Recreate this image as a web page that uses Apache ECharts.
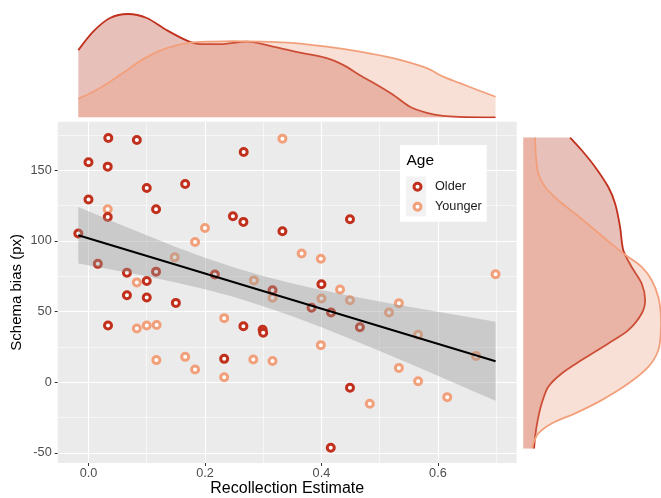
<!DOCTYPE html>
<html><head><meta charset="utf-8">
<script src="https://cdn.jsdelivr.net/npm/echarts@6/dist/echarts.min.js"></script>
<style>html,body{margin:0;padding:0;background:#fff}#c{width:661px;height:498px}</style>
</head><body><div id="c"></div>
<script>
// ---- data ----
const olderX = [0.034, 0.083, 0.0, 0.033, 0.2665, 0.1, 0.166, 0.0, 0.033, 0.116, 0.248, 0.266, 0.333, 0.449, -0.0175, 0.016, 0.066, 0.116, 0.1, 0.066, 0.1, 0.15, 0.217, 0.316, 0.0335, 0.266, 0.299, 0.300, 0.233, 0.4, 0.383, 0.4165, 0.466, 0.449, 0.416];
const olderY = [172.8, 171.4, 155.6, 152.5, 162.9, 137.4, 140.2, 129.2, 116.9, 122.3, 117.4, 113.4, 106.8, 115.3, 105.2, 83.7, 77.5, 78.2, 71.6, 61.5, 59.9, 56.1, 76.2, 65.0, 40.1, 39.6, 37.0, 35.0, 16.5, 69.3, 52.6, 49.3, 38.9, -4.0, -46.4];
const youngerX = [0.333, 0.033, 0.2, 0.183, 0.148, 0.366, 0.399, 0.699, 0.083, 0.284, 0.316, 0.083, 0.1, 0.117, 0.233, 0.1165, 0.166, 0.183, 0.233, 0.283, 0.316, 0.432, 0.449, 0.4, 0.533, 0.516, 0.566, 0.6655, 0.399, 0.533, 0.566, 0.483, 0.616];
const youngerY = [172.3, 122.3, 109.1, 99.2, 88.3, 91.0, 87.3, 76.4, 70.6, 72.0, 59.7, 38.0, 40.1, 40.5, 45.3, 15.6, 17.9, 9.0, 3.5, 16.0, 15.0, 65.6, 58.0, 59.2, 55.9, 49.3, 33.5, 18.6, 26.2, 10.1, 0.7, -15.3, -10.6];

// regression line and confidence band
const fitX = [-0.0175, 0.699];
const fitY = [104.0, 14.8];
const bandX = [-0.0175, 0.05, 0.1, 0.15, 0.2, 0.25, 0.3, 0.35, 0.4, 0.45, 0.5, 0.55, 0.6, 0.65, 0.699];
const bandUpper = [124.0, 112.3, 103.9, 95.7, 88.1, 81.2, 75.2, 69.9, 65.2, 61.0, 57.1, 53.4, 49.8, 46.2, 42.8];
const bandLower = [84.0, 78.9, 74.9, 70.5, 65.7, 60.2, 53.8, 46.7, 38.8, 30.6, 22.1, 13.4, 4.6, -4.4, -13.2];

// top marginal densities (x = Recollection Estimate)
const topOlderX = [-0.0175, 0.008, 0.037, 0.068, 0.1, 0.134, 0.169, 0.192, 0.226, 0.272, 0.317, 0.363, 0.409, 0.438, 0.466, 0.495, 0.523, 0.552, 0.581, 0.609, 0.638, 0.699];
const topOlderD = [1.34, 1.71, 1.98, 2.06, 1.98, 1.74, 1.53, 1.46, 1.46, 1.51, 1.41, 1.29, 1.18, 1.04, 0.84, 0.65, 0.45, 0.21, 0.09, 0.03, 0.01, 0.0];
const topYoungerX = [-0.0175, 0.008, 0.037, 0.066, 0.094, 0.123, 0.152, 0.174, 0.209, 0.249, 0.295, 0.352, 0.409, 0.466, 0.523, 0.581, 0.609, 0.638, 0.667, 0.699];
const topYoungerD = [0.37, 0.51, 0.71, 0.94, 1.16, 1.33, 1.44, 1.49, 1.51, 1.52, 1.51, 1.48, 1.41, 1.31, 1.18, 0.98, 0.81, 0.68, 0.55, 0.41];

// right marginal densities (y = Schema bias)
const rightOlderY = [173.1, 164.1, 152.3, 138.1, 126.4, 109.8, 93.4, 81.5, 69.8, 58.0, 48.6, 36.8, 27.4, 15.6, 6.1, -3.3, -15.1, -26.9, -38.7, -46.9];
const rightOlderD = [2.34, 2.92, 3.59, 4.25, 4.59, 4.84, 5.0, 5.42, 5.92, 6.09, 5.92, 5.25, 4.25, 2.92, 1.92, 1.25, 0.92, 0.72, 0.59, 0.54];
const rightYoungerY = [173.1, 161.8, 147.6, 138.1, 128.7, 119.3, 107.5, 95.7, 88.6, 81.5, 72.1, 60.3, 48.6, 34.4, 22.6, 10.8, -1.0, -12.7, -22.1, -29.2, -36.3, -43.4, -46.9];
const rightYoungerD = [0.59, 0.62, 0.75, 1.09, 1.75, 2.59, 3.59, 4.59, 5.25, 5.92, 6.42, 6.75, 6.87, 6.87, 6.75, 6.25, 5.25, 3.92, 2.59, 1.42, 0.75, 0.5, 0.45];

// ticks
const xMajor = [0, 0.2, 0.4, 0.6];
const xMinor = [0.1, 0.3, 0.5, 0.7];
const yMajor = [-50, 0, 50, 100, 150];
const yMinor = [-25, 25, 75, 125, 175];

// ---- styles ----
const OLD = '#C1301C', YNG = '#F2A07B';
const OLD_FILL = 'rgba(178,45,25,0.3)', YNG_FILL = 'rgba(235,152,118,0.3)';
const FONT = "'Liberation Sans', Arial, sans-serif";
const XMIN = -0.0529, XMAX = 0.7353, YMIN = -57.2, YMAX = 184.3;

const zip = (a, b) => a.map((v, i) => [v, b[i]]);

const chart = echarts.init(document.getElementById('c'), null, {renderer: 'canvas'});

function bandRender(params, api) {
  if (params.dataIndex !== 0) return null;
  const pts = [];
  for (let i = 0; i < bandX.length; i++) pts.push(api.coord([bandX[i], bandUpper[i]]));
  for (let i = bandX.length - 1; i >= 0; i--) pts.push(api.coord([bandX[i], bandLower[i]]));
  return {type: 'polygon', shape: {points: pts}, style: {fill: 'rgba(153,153,153,0.4)'}};
}
function rightRender(ys, ds, fill, stroke) {
  return function (params, api) {
    if (params.dataIndex !== 0) return null;
    const curve = ys.map((y, i) => api.coord([ds[i], y]));
    const poly = [api.coord([0, ys[0]])].concat(curve, [api.coord([0, ys[ys.length - 1]])]);
    return {type: 'group', children: [
      {type: 'polygon', shape: {points: poly}, style: {fill: fill}},
      {type: 'polyline', shape: {points: curve, smooth: 0.3}, style: {stroke: stroke, lineWidth: 1.8, fill: null}}
    ]};
  };
}

const option = {
  animation: false,
  backgroundColor: '#ffffff',
  textStyle: {fontFamily: FONT},
  grid: [
    {left: 57.7, top: 121.7, width: 459, height: 341.3, show: true, backgroundColor: '#EBEBEB', borderWidth: 0, outerBoundsMode: 'none'},
    {left: 57.7, top: 7, width: 459, height: 110.3, show: false, outerBoundsMode: 'none'},
    {left: 523.3, top: 121.7, width: 137.7, height: 341.3, show: false, outerBoundsMode: 'none'}
  ],
  xAxis: [
    {type: 'value', gridIndex: 0, min: XMIN, max: XMAX, position: 'bottom',
     name: 'Recollection Estimate', nameLocation: 'middle', nameGap: 18, nameMoveOverlap: false,
     nameTextStyle: {fontSize: 16, color: '#000', fontFamily: FONT},
     axisLine: {show: false, onZero: false},
     axisTick: {show: true, length: 3, customValues: xMajor, lineStyle: {color: '#333', width: 1}},
     axisLabel: {show: true, customValues: xMajor, margin: 4, fontSize: 12.7, color: '#4D4D4D', fontFamily: FONT,
                 formatter: v => Number(v).toFixed(1)},
     splitLine: {show: true, lineStyle: {color: '#fff', width: 1.1}}},
    {type: 'value', gridIndex: 0, min: XMIN, max: XMAX, position: 'top',
     axisLine: {show: false, onZero: false}, axisTick: {show: false, customValues: xMinor},
     axisLabel: {show: false, customValues: xMinor},
     splitLine: {show: true, lineStyle: {color: '#fff', width: 0.55}}},
    {type: 'value', gridIndex: 1, min: XMIN, max: XMAX, show: false},
    {type: 'value', gridIndex: 2, min: 0, max: 6.885, show: false}
  ],
  yAxis: [
    {type: 'value', gridIndex: 0, min: YMIN, max: YMAX, position: 'left',
     name: 'Schema bias (px)', nameLocation: 'middle', nameGap: 33, nameMoveOverlap: false,
     nameTextStyle: {fontSize: 15, color: '#000', fontFamily: FONT},
     axisLine: {show: false, onZero: false},
     axisTick: {show: true, length: 3, customValues: yMajor, lineStyle: {color: '#333', width: 1}},
     axisLabel: {show: true, customValues: yMajor, margin: 6, fontSize: 12.7, color: '#4D4D4D', fontFamily: FONT},
     splitLine: {show: true, lineStyle: {color: '#fff', width: 1.1}}},
    {type: 'value', gridIndex: 0, min: YMIN, max: YMAX, position: 'right',
     axisLine: {show: false, onZero: false}, axisTick: {show: false, customValues: yMinor},
     axisLabel: {show: false, customValues: yMinor},
     splitLine: {show: true, lineStyle: {color: '#fff', width: 0.55}}},
    {type: 'value', gridIndex: 1, min: 0, max: 2.2, show: false},
    {type: 'value', gridIndex: 2, min: YMIN, max: YMAX, show: false}
  ],
  legend: {
    show: true, orient: 'vertical', left: 412.5, top: 180.2, z: 10,
    itemWidth: 7, itemHeight: 7, itemGap: 7, selectedMode: false, icon: 'circle',
    padding: 0,
    textStyle: {fontSize: 12.7, color: '#1a1a1a', fontFamily: FONT, padding: [0, 0, 0, 9]},
    data: [
      {name: 'Older', itemStyle: {color: '#fff', borderColor: OLD, borderWidth: 3}},
      {name: 'Younger', itemStyle: {color: '#fff', borderColor: YNG, borderWidth: 3}}
    ]
  },
  graphic: [
    {type: 'rect', z: 5, shape: {x: 400, y: 145, width: 86.7, height: 76.7}, style: {fill: '#fff'}},
    {type: 'rect', z: 6, shape: {x: 406, y: 176.5, width: 20, height: 20}, style: {fill: '#F2F2F2'}},
    {type: 'rect', z: 6, shape: {x: 406, y: 196.5, width: 20, height: 20}, style: {fill: '#F2F2F2'}},
    {type: 'text', z: 6, x: 406.5, y: 161, style: {text: 'Age', fontSize: 15.5, fill: '#000', fontFamily: FONT, verticalAlign: 'middle', align: 'left'}}
  ],
  series: [
    {name: 'Younger', type: 'scatter', xAxisIndex: 0, yAxisIndex: 0, z: 2,
     symbol: 'circle', symbolSize: 7, data: zip(youngerX, youngerY),
     itemStyle: {color: '#fff', borderColor: YNG, borderWidth: 3, opacity: 1}},
    {name: 'Older', type: 'scatter', xAxisIndex: 0, yAxisIndex: 0, z: 2,
     symbol: 'circle', symbolSize: 7, data: zip(olderX, olderY),
     itemStyle: {color: '#fff', borderColor: OLD, borderWidth: 3, opacity: 1}},
    {name: 'band', type: 'custom', xAxisIndex: 0, yAxisIndex: 0, z: 3,
     data: [[bandX[0], bandUpper[0]]], renderItem: bandRender, silent: true},
    {name: 'fit', type: 'line', xAxisIndex: 0, yAxisIndex: 0, z: 4,
     data: zip(fitX, fitY), symbol: 'none', lineStyle: {color: '#000', width: 2}, silent: true},
    {name: 'Older density (x)', type: 'line', xAxisIndex: 2, yAxisIndex: 2, z: 2,
     data: zip(topOlderX, topOlderD), symbol: 'none', smooth: 0.3,
     lineStyle: {color: OLD, width: 1.8}, areaStyle: {color: OLD_FILL, opacity: 1}},
    {name: 'Younger density (x)', type: 'line', xAxisIndex: 2, yAxisIndex: 2, z: 3,
     data: zip(topYoungerX, topYoungerD), symbol: 'none', smooth: 0.3,
     lineStyle: {color: YNG, width: 1.8}, areaStyle: {color: YNG_FILL, opacity: 1}},
    {name: 'Older density (y)', type: 'custom', xAxisIndex: 3, yAxisIndex: 3, z: 2,
     data: [[rightOlderD[0], rightOlderY[0]]], renderItem: rightRender(rightOlderY, rightOlderD, OLD_FILL, OLD), silent: true},
    {name: 'Younger density (y)', type: 'custom', xAxisIndex: 3, yAxisIndex: 3, z: 3,
     data: [[rightYoungerD[0], rightYoungerY[0]]], renderItem: rightRender(rightYoungerY, rightYoungerD, YNG_FILL, YNG), silent: true}
  ]
};
chart.setOption(option);
</script>
</body></html>
